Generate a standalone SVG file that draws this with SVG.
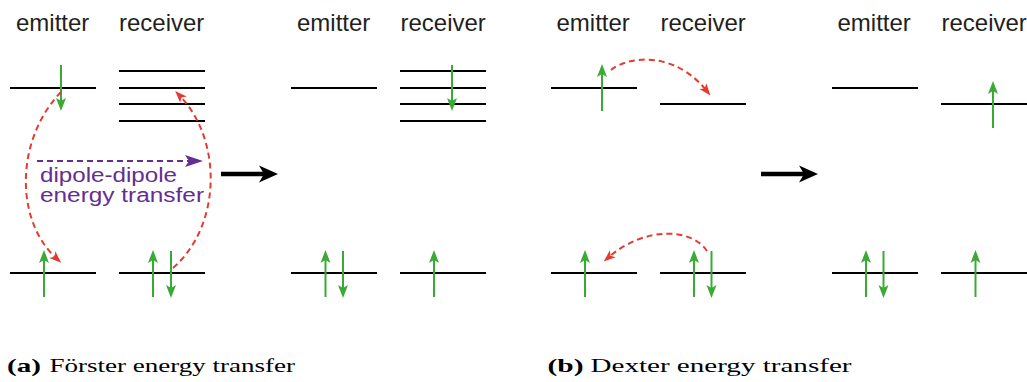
<svg xmlns="http://www.w3.org/2000/svg" width="1027" height="382" viewBox="0 0 1027 382">
<style>
.lvl{stroke:#000;stroke-width:2;fill:none}
.spin{stroke:#3aaa35;stroke-width:2;fill:none;marker-end:url(#gh)}
.red{stroke:#e53a2f;stroke-width:2;fill:none;stroke-dasharray:6 4;marker-end:url(#rh)}
.pur{stroke:#652d90;stroke-width:2;fill:none;stroke-dasharray:6 4;marker-end:url(#ph)}
.big{stroke:#000;stroke-width:4.3;fill:none;marker-end:url(#bh)}
.hd{font-family:"Liberation Sans",Arial,sans-serif;font-size:24px;fill:#231f20}
.pt{font-family:"Liberation Sans",Arial,sans-serif;font-size:20px;fill:#652d90}
.cap{font-family:"Liberation Serif","Times New Roman",serif;font-size:19px;fill:#000}
.capb{font-family:"Liberation Serif","Times New Roman",serif;font-size:19px;font-weight:bold;fill:#000}
</style>
<defs>
<marker id="gh" markerUnits="userSpaceOnUse" viewBox="0 -6 14 12" markerWidth="14" markerHeight="12" refX="5" refY="0" orient="auto" overflow="visible"><path d="M0,-5 L13,0 L0,5 L3,0 Z" fill="#3aaa35"/></marker>
<marker id="rh" markerUnits="userSpaceOnUse" viewBox="0 -6 14 12" markerWidth="14" markerHeight="12" refX="5" refY="0" orient="auto" overflow="visible"><path d="M0,-4.5 L12,0 L0,4.5 L3,0 Z" fill="#e53a2f"/></marker>
<marker id="ph" markerUnits="userSpaceOnUse" viewBox="0 -8 20 16" markerWidth="20" markerHeight="16" refX="12" refY="0" orient="auto" overflow="visible"><path d="M0,-6 L18,0 L0,6 L4,0 Z" fill="#652d90"/></marker>
<marker id="bh" markerUnits="userSpaceOnUse" viewBox="0 -10 20 20" markerWidth="20" markerHeight="20" refX="7" refY="0" orient="auto" overflow="visible"><path d="M0,-8.5 L19,0 L0,8.5 L5,0 Z" fill="#000"/></marker>
</defs>

<!-- Panel (a) Förster, before -->
<g id="forster-before-emitter">
<text class="hd" x="16" y="31">emitter</text>
<line class="lvl" x1="10" y1="88" x2="96" y2="88"/>
<line class="lvl" x1="10" y1="273" x2="96" y2="273"/>
<line class="spin" x1="61" y1="65" x2="61" y2="103"/>
<line class="spin" x1="44" y1="297" x2="44" y2="258"/>
</g>
<g id="forster-before-receiver">
<text class="hd" x="119" y="31">receiver</text>
<line class="lvl" x1="119" y1="71" x2="205" y2="71"/>
<line class="lvl" x1="119" y1="88" x2="205" y2="88"/>
<line class="lvl" x1="119" y1="104" x2="205" y2="104"/>
<line class="lvl" x1="119" y1="121" x2="205" y2="121"/>
<line class="lvl" x1="119" y1="273" x2="205" y2="273"/>
<line class="spin" x1="153" y1="297" x2="153" y2="258"/>
<line class="spin" x1="171" y1="251" x2="171" y2="290"/>
</g>
<g id="dipole-label">
<text class="pt" x="40" y="182" textLength="137" lengthAdjust="spacingAndGlyphs">dipole-dipole</text>
<text class="pt" x="40" y="202" textLength="164" lengthAdjust="spacingAndGlyphs">energy transfer</text>
</g>

<!-- Panel (a) Förster, after -->
<g id="forster-after-emitter">
<text class="hd" x="297" y="31">emitter</text>
<line class="lvl" x1="291" y1="88" x2="377" y2="88"/>
<line class="lvl" x1="291" y1="273" x2="377" y2="273"/>
<line class="spin" x1="325.5" y1="297" x2="325.5" y2="258"/>
<line class="spin" x1="343" y1="251" x2="343" y2="290"/>
</g>
<g id="forster-after-receiver">
<text class="hd" x="400.5" y="31">receiver</text>
<line class="lvl" x1="400" y1="71" x2="486" y2="71"/>
<line class="lvl" x1="400" y1="88" x2="486" y2="88"/>
<line class="lvl" x1="400" y1="104" x2="486" y2="104"/>
<line class="lvl" x1="400" y1="121" x2="486" y2="121"/>
<line class="lvl" x1="400" y1="273" x2="486" y2="273"/>
<line class="spin" x1="452" y1="65" x2="452" y2="103"/>
<line class="spin" x1="434" y1="297" x2="434" y2="258"/>
</g>

<!-- Panel (b) Dexter, before -->
<g id="dexter-before-emitter">
<text class="hd" x="556.5" y="31">emitter</text>
<line class="lvl" x1="551" y1="88" x2="637" y2="88"/>
<line class="lvl" x1="551" y1="273" x2="637" y2="273"/>
<line class="spin" x1="602" y1="111" x2="602" y2="72"/>
<line class="spin" x1="585" y1="297" x2="585" y2="258"/>
</g>
<g id="dexter-before-receiver">
<text class="hd" x="660.5" y="31">receiver</text>
<line class="lvl" x1="660" y1="104" x2="746" y2="104"/>
<line class="lvl" x1="660" y1="273" x2="746" y2="273"/>
<line class="spin" x1="694" y1="297" x2="694" y2="258"/>
<line class="spin" x1="711.5" y1="251" x2="711.5" y2="290"/>
</g>

<!-- Panel (b) Dexter, after -->
<g id="dexter-after-emitter">
<text class="hd" x="837.5" y="31">emitter</text>
<line class="lvl" x1="832" y1="88" x2="918" y2="88"/>
<line class="lvl" x1="832" y1="273" x2="918" y2="273"/>
<line class="spin" x1="866" y1="297" x2="866" y2="258"/>
<line class="spin" x1="883.5" y1="251" x2="883.5" y2="290"/>
</g>
<g id="dexter-after-receiver">
<text class="hd" x="941.5" y="31">receiver</text>
<line class="lvl" x1="941" y1="104" x2="1027" y2="104"/>
<line class="lvl" x1="941" y1="273" x2="1027" y2="273"/>
<line class="spin" x1="993" y1="128" x2="993" y2="89"/>
<line class="spin" x1="975.5" y1="297" x2="975.5" y2="258"/>
</g>

<g id="connectors">
<path class="red" d="M61,92 C15,140 15,220 56,258"/>
<path class="red" d="M173,268 C222,225 222,140 180,96"/>
<path class="pur" d="M37,161 L197,161"/>
<path class="big" d="M221,174 L266,174"/>
<path class="red" d="M611,70 C630,55 675,52 706,90"/>
<path class="red" d="M707,251 C692,228 645,226 609,257"/>
<path class="big" d="M761,174 L806,174"/>
</g>

<g id="captions">
<text class="capb" x="7" y="372" textLength="34" lengthAdjust="spacingAndGlyphs">(a)</text>
<text class="cap" x="49.5" y="372" textLength="245.5" lengthAdjust="spacingAndGlyphs">Förster energy transfer</text>
<text class="capb" x="547.5" y="372" textLength="36" lengthAdjust="spacingAndGlyphs">(b)</text>
<text class="cap" x="590.5" y="372" textLength="261" lengthAdjust="spacingAndGlyphs">Dexter energy transfer</text>
</g>
</svg>
